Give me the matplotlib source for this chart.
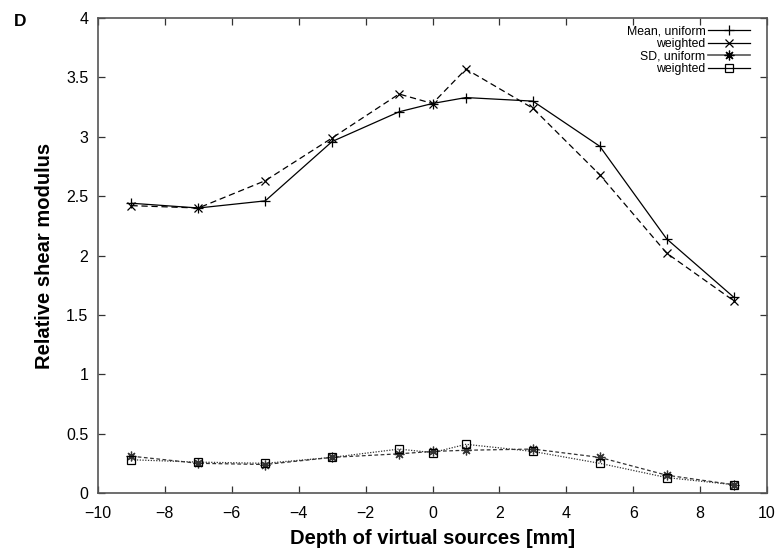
import matplotlib
matplotlib.use("Agg")
import matplotlib.pyplot as plt
from matplotlib.lines import Line2D

plt.rcParams['font.family'] = ['Liberation Sans', 'DejaVu Sans']

# Depth of virtual sources [mm]
depth = [-9, -7, -5, -3, -1, 0, 1, 3, 5, 7, 9]

# Relative shear modulus: mean and standard deviation, uniform vs weighted
mean_uniform = [2.44, 2.40, 2.46, 2.96, 3.21, 3.28, 3.33, 3.30, 2.92, 2.14, 1.65]
mean_weighted = [2.42, 2.40, 2.63, 2.99, 3.36, 3.28, 3.57, 3.24, 2.68, 2.02, 1.62]
sd_uniform = [0.31, 0.25, 0.24, 0.30, 0.33, 0.35, 0.36, 0.37, 0.30, 0.15, 0.07]
sd_weighted = [0.28, 0.26, 0.25, 0.30, 0.37, 0.34, 0.41, 0.35, 0.25, 0.13, 0.07]

legend_labels = ["Mean, uniform", "weighted", "SD, uniform", "weighted"]
x_ticks = [-10, -8, -6, -4, -2, 0, 2, 4, 6, 8, 10]
y_ticks = [0, 0.5, 1, 1.5, 2, 2.5, 3, 3.5, 4]

fig = plt.figure(figsize=(7.75, 5.5), dpi=100)
ax = fig.add_axes([98 / 775, 1 - 493 / 550, (767 - 98) / 775, (493 - 18) / 550])

lw = 0.9
ax.plot(depth, mean_uniform, color='black', lw=lw, ls='-', marker='+',
        ms=7, mew=0.9)
ax.plot(depth, mean_weighted, color='black', lw=lw, ls=(0, (5, 3)), marker='x',
        ms=6, mew=0.9)
ax.plot(depth, sd_uniform, color='#333333', lw=lw, ls=(0, (3, 2)),
        marker=(8, 2, 0), ms=7, mew=0.9)
ax.plot(depth, sd_weighted, color='#333333', lw=lw, ls=(0, (1, 1.2)),
        marker='s', ms=6, mfc='none', mec='black', mew=0.9)

ax.set_xlim(-10, 10)
ax.set_ylim(0, 4)
ax.set_xticks(x_ticks)
ax.set_yticks(y_ticks)
ax.set_yticklabels(['0', '0.5', '1', '1.5', '2', '2.5', '3', '3.5', '4'])
ax.set_xticklabels([str(t).replace('-', '\u2212') for t in x_ticks])
ax.tick_params(direction='in', length=5, width=0.9, top=True, right=True,
               labelsize=11.5, color='#333333')
ax.tick_params(axis='x', pad=9)
ax.tick_params(axis='y', pad=7)
for s in ax.spines.values():
    s.set_color('#555555')
    s.set_linewidth(1.2)

ax.set_xlabel("Depth of virtual sources [mm]", fontsize=14.5, fontweight='bold',
              labelpad=6)
ax.set_ylabel("Relative shear modulus", fontsize=14.5, fontweight='bold',
              labelpad=9)

handles = [
    Line2D([], [], color='black', lw=lw, marker='+', ms=7, mew=0.9),
    Line2D([], [], color='black', lw=lw, marker='x', ms=6, mew=0.9),
    Line2D([], [], color='#555555', lw=1.2, marker=(8, 2, 0), ms=7, mew=0.9,
           mec='black'),
    Line2D([], [], color='black', lw=lw, marker='s', ms=6, mfc='none', mew=0.9),
]
leg = ax.legend(handles, legend_labels, loc='upper right',
                bbox_to_anchor=(0.985, 1.0), frameon=False, markerfirst=False,
                fontsize=8.8, handlelength=3.4, handletextpad=0.2,
                labelspacing=0.05, borderaxespad=0.2)

fig.text(20 / 775, 1 - 22 / 550, "D", fontsize=12.5, fontweight='bold',
         ha='center', va='center')

fig.savefig("out.png", dpi=100)
